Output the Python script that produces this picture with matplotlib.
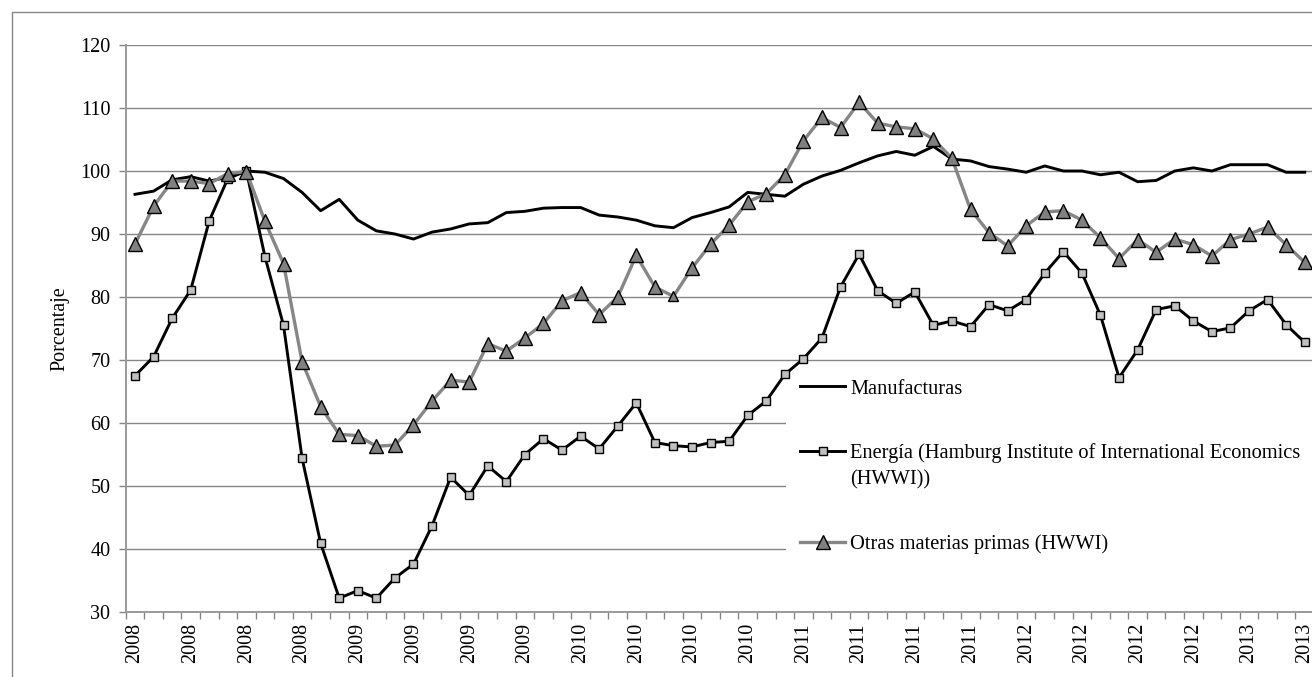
import matplotlib
matplotlib.use("Agg")
import matplotlib.pyplot as plt
import numpy as np
from matplotlib.patches import Rectangle

# monthly series, Jan 2008 - Apr 2013 (index, percent)
manufacturas = [96.3, 96.8, 98.6, 99.1, 98.4, 99.0, 100.0, 99.8, 98.8, 96.6, 93.7, 95.5,
                92.2, 90.5, 90.0, 89.2, 90.3, 90.8, 91.6, 91.8, 93.4, 93.6, 94.1, 94.2,
                94.2, 93.0, 92.7, 92.2, 91.3, 91.0, 92.6, 93.4, 94.3, 96.6, 96.3, 96.0,
                97.9, 99.2, 100.1, 101.3, 102.4, 103.1, 102.5, 103.9, 101.9, 101.6, 100.7, 100.3,
                99.8, 100.8, 100.0, 100.0, 99.4, 99.8, 98.3, 98.5, 100.0, 100.5, 100.0, 101.0,
                101.0, 101.0, 99.8, 99.8]
energia = [67.5, 70.5, 76.6, 81.1, 92.1, 98.8, 100.0, 86.4, 75.5, 54.4, 40.9, 32.2,
           33.4, 32.2, 35.4, 37.6, 43.7, 51.4, 48.5, 53.2, 50.7, 55.0, 57.5, 55.7,
           57.9, 55.9, 59.5, 63.2, 56.9, 56.4, 56.2, 56.9, 57.1, 61.2, 63.5, 67.7,
           70.2, 73.5, 81.6, 86.8, 81.0, 79.0, 80.8, 75.5, 76.2, 75.3, 78.8, 77.8,
           79.6, 83.8, 87.2, 83.8, 77.1, 67.2, 71.6, 78.0, 78.6, 76.2, 74.5, 75.1,
           77.8, 79.6, 75.6, 72.8]
otras = [88.4, 94.4, 98.4, 98.4, 98.0, 99.6, 99.9, 92.0, 85.3, 69.7, 62.6, 58.2,
         58.0, 56.3, 56.5, 59.7, 63.5, 66.8, 66.5, 72.6, 71.4, 73.5, 75.8, 79.4,
         80.7, 77.2, 80.0, 86.6, 81.6, 80.1, 84.6, 88.4, 91.4, 95.1, 96.4, 99.4,
         104.8, 108.5, 106.9, 110.9, 107.6, 107.0, 106.7, 105.1, 102.0, 93.9, 90.2, 88.1,
         91.3, 93.5, 93.7, 92.2, 89.4, 86.1, 89.1, 87.1, 89.2, 88.3, 86.5, 89.1,
         90.0, 91.1, 88.3, 85.5]

# one label every third month
tick_labels = ["2008", "2008", "2008", "2008", "2009", "2009", "2009", "2009",
               "2010", "2010", "2010", "2010", "2011", "2011", "2011", "2011",
               "2012", "2012", "2012", "2012", "2013", "2013"]

labels = ["Manufacturas",
          "Energía (Hamburg Institute of International Economics\n(HWWI))",
          "Otras materias primas (HWWI)"]

plt.rcParams["font.family"] = ["Liberation Serif", "DejaVu Serif"]

W, H = 1312, 677
fig = plt.figure(figsize=(W / 100, H / 100), dpi=100)

# plot area in pixels
left, right, top, bottom = 125.7, 1314, 45, 612
ax = fig.add_axes([left / W, 1 - bottom / H, (right - left) / W, (bottom - top) / H])

x = np.arange(len(manufacturas))
grey = "#868686"

ax.plot(x, manufacturas, color="black", lw=2.1, label=labels[0], zorder=3)
ax.plot(x, energia, color="black", lw=2.1, marker="s", ms=5.6,
        mfc="#c0c0c0", mec="black", mew=1.0, label=labels[1], zorder=3)

# one marker of the last series is drawn smaller in the original
small = [29]
big = [i for i in range(len(otras)) if i not in small]
ax.plot(x, otras, color=grey, lw=2.4, marker="^", ms=10.5, markevery=big,
        mfc="#808080", mec="black", mew=1.0, label=labels[2], zorder=3)
ax.plot(x[small], np.array(otras)[small], ls="none", marker="^", ms=6.5,
        mfc="#808080", mec="black", mew=1.0, zorder=3)

ax.set_xlim(-0.5, len(x) - 0.5)
ax.set_ylim(30, 120)
ax.set_yticks(np.arange(30, 121, 10))
ax.yaxis.grid(True, color=grey, lw=1.0)
ax.set_axisbelow(True)

# tick marks between months, labels every third month
ax.set_xticks(np.arange(-0.5, len(x), 1))
ax.set_xticklabels([])
ax.set_xticks(np.arange(0, len(x), 3), minor=True)
ax.set_xticklabels(tick_labels, minor=True, rotation=90)
ax.tick_params(axis="x", which="major", length=5, color=grey, width=1)
ax.tick_params(axis="x", which="minor", length=0, pad=8, labelsize=14.5)
ax.tick_params(axis="y", length=5, color=grey, width=1, pad=6, labelsize=14.5)

for s in ["top", "right"]:
    ax.spines[s].set_visible(False)
for s in ["left", "bottom"]:
    ax.spines[s].set_color("#9a9a9a")
    ax.spines[s].set_linewidth(1.4)

ax.set_ylabel("Porcentaje", fontsize=14.5)
ax.yaxis.set_label_coords(-0.047, 0.5)

leg = ax.legend(loc="upper left", bbox_to_anchor=(786 / W, 1 - 365 / H),
                bbox_transform=fig.transFigure, borderaxespad=0,
                fontsize=14.7, frameon=True, fancybox=False, framealpha=1,
                facecolor="white", edgecolor="none", borderpad=0.7,
                handlelength=2.2, handletextpad=0.25, labelspacing=2.2)
leg.set_zorder(2)
for t in leg.get_texts():
    t.set_linespacing(1.5)
# put the handle of the two-line entry next to its first line
rows = [r for col in leg._legend_handle_box.get_children() for r in col.get_children()]
rows[1].align = "top"

# outer chart border, cut by the image edge
fig.patches.append(Rectangle((12 / W, -0.1), 1.2, 1.1 - 12 / H, transform=fig.transFigure,
                             fill=False, edgecolor=grey, lw=1.0))

fig.savefig("out.png", dpi=100)
